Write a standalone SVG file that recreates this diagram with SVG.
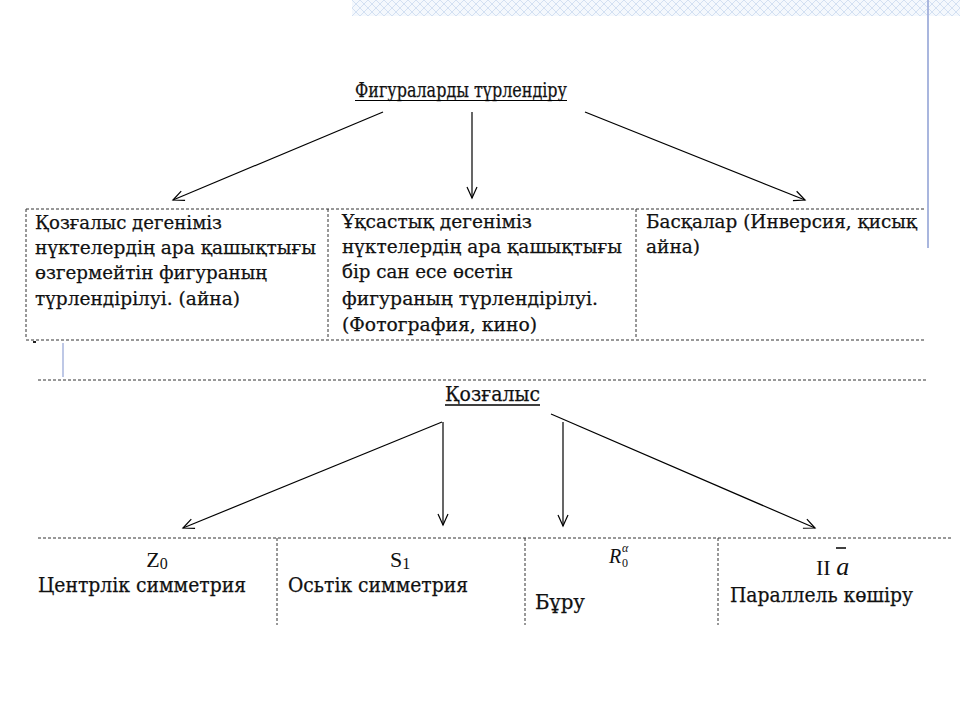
<svg xmlns="http://www.w3.org/2000/svg" width="960" height="720" viewBox="0 0 960 720">
<defs>
<pattern id="hatch" width="8" height="8" patternUnits="userSpaceOnUse">
<rect width="8" height="8" fill="#f4f8fd"/>
<path d="M0 0 L8 8 M8 0 L0 8" stroke="#d3e0f2" stroke-width="1"/>
</pattern>
<marker id="ah" markerWidth="14" markerHeight="14" refX="12" refY="7" orient="auto" markerUnits="userSpaceOnUse">
<path d="M1 2 L12 7 L1 12" fill="none" stroke="#000" stroke-width="1.2"/>
</marker>
<style>
.t{font-family:"DejaVu Serif","Liberation Serif",serif;fill:#111;stroke:#111;stroke-width:0.25;}
.r{font-family:"Liberation Serif","Times New Roman",serif;fill:#111;}
.c{font-size:19px;}
.b{font-size:20px;}
.d{stroke:#333;stroke-width:1;stroke-dasharray:3 2;fill:none;}
.a{stroke:#000;stroke-width:1.2;fill:none;marker-end:url(#ah);}
</style>
</defs>
<rect width="960" height="720" fill="#fff"/>
<rect x="352" y="0" width="608" height="16" fill="url(#hatch)"/>
<line x1="928" y1="0" x2="928" y2="248" stroke="#a9b6de" stroke-width="2"/>

<g id="title1">
<text class="t" font-size="20" x="355" y="97" textLength="212" lengthAdjust="spacingAndGlyphs">Фигураларды түрлендіру</text>
<line x1="355" y1="100.5" x2="567" y2="100.5" stroke="#000" stroke-width="1"/>
</g>

<g id="table1">
<path class="d" d="M26 209 H926 M26 209 V338 M328 209 V338 M636 209 V338 M26 340 H926 M38 380 H926"/>
<rect x="33" y="341" width="3" height="2" fill="#222"/>
<line x1="63" y1="343" x2="63" y2="377" stroke="#a9b6de" stroke-width="1.5"/>
</g>

<g id="cell1">
<text class="t c" x="35" y="229" textLength="187" lengthAdjust="spacingAndGlyphs">Қозғалыс дегеніміз</text>
<text class="t c" x="35" y="254" textLength="281" lengthAdjust="spacingAndGlyphs">нүктелердің ара қашықтығы</text>
<text class="t c" x="35" y="279" textLength="232" lengthAdjust="spacingAndGlyphs">өзгермейтін фигураның</text>
<text class="t c" x="35" y="305" textLength="205" lengthAdjust="spacingAndGlyphs">түрлендірілуі. (айна)</text>
</g>
<g id="cell2">
<text class="t c" x="342" y="228" textLength="190" lengthAdjust="spacingAndGlyphs">Ұқсастық дегеніміз</text>
<text class="t c" x="342" y="253" textLength="280" lengthAdjust="spacingAndGlyphs">нүктелердің ара қашықтығы</text>
<text class="t c" x="342" y="278" textLength="171" lengthAdjust="spacingAndGlyphs">бір сан есе өсетін</text>
<text class="t c" x="342" y="305" textLength="256" lengthAdjust="spacingAndGlyphs">фигураның түрлендірілуі.</text>
<text class="t c" x="342" y="331" textLength="195" lengthAdjust="spacingAndGlyphs">(Фотография, кино)</text>
</g>
<g id="cell3">
<text class="t c" x="646" y="228" textLength="271" lengthAdjust="spacingAndGlyphs">Басқалар (Инверсия, қисық</text>
<text class="t c" x="646" y="253" textLength="54" lengthAdjust="spacingAndGlyphs">айна)</text>
</g>

<g id="title2">
<text class="t" font-size="21" x="445" y="401" textLength="95" lengthAdjust="spacingAndGlyphs">Қозғалыс</text>
<line x1="445" y1="405" x2="540" y2="405" stroke="#000" stroke-width="1.5"/>
</g>

<g id="table2">
<path class="d" d="M38 538 H952 M277 538 V625 M525 538 V625 M718 538 V625"/>
</g>
<g id="z0">
<text class="r" font-size="22" x="157" y="567" text-anchor="middle">Z<tspan font-size="16" dy="2">0</tspan></text>
<text class="t b" x="38" y="592" textLength="208" lengthAdjust="spacingAndGlyphs">Центрлік симметрия</text>
</g>
<g id="s1">
<text class="r" font-size="22" x="400" y="567" text-anchor="middle">S<tspan font-size="16" dy="2">1</tspan></text>
<text class="t b" x="288" y="592" textLength="180" lengthAdjust="spacingAndGlyphs">Осьтік симметрия</text>
</g>
<g id="r0">
<text class="r" x="609" y="563" font-size="20" font-style="italic">R</text>
<text class="r" x="622" y="567" font-size="12">0</text>
<text class="r" x="622" y="552" font-size="12" font-style="italic">α</text>
<text class="t b" x="535" y="609" textLength="50" lengthAdjust="spacingAndGlyphs">Бұру</text>
</g>
<g id="pa">
<text class="r" font-size="22" x="816" y="575">II <tspan font-style="italic" font-size="26">a</tspan></text>
<line x1="836" y1="548" x2="846" y2="548" stroke="#000" stroke-width="1.5"/>
<text class="t b" x="730" y="602" textLength="183" lengthAdjust="spacingAndGlyphs">Параллель көшіру</text>
</g>

<g id="connectors">
<line class="a" x1="383" y1="112" x2="173" y2="200"/>
<line class="a" x1="472" y1="112" x2="472" y2="198"/>
<line class="a" x1="585" y1="112" x2="805" y2="200"/>
<line class="a" x1="442" y1="422" x2="183" y2="528"/>
<line class="a" x1="443" y1="422" x2="443" y2="525"/>
<line class="a" x1="563" y1="422" x2="563" y2="526"/>
<line class="a" x1="551" y1="414" x2="815" y2="528"/>
</g>
</svg>
